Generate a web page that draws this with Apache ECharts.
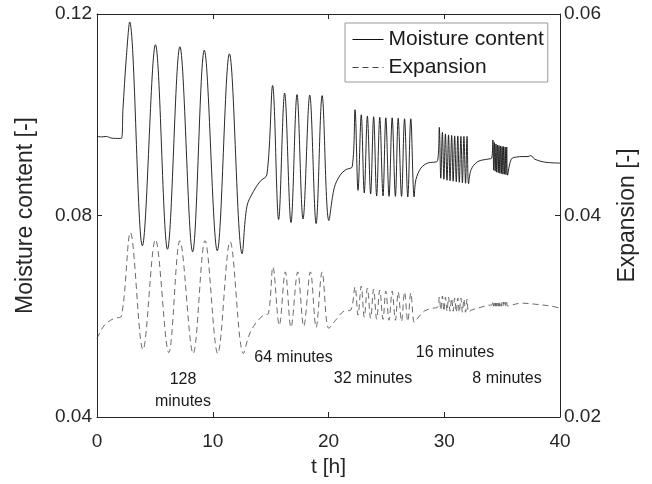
<!DOCTYPE html>
<html>
<head>
<meta charset="utf-8">
<script src="https://cdn.jsdelivr.net/npm/echarts@6/dist/echarts.min.js"></script>
<style>
html,body{margin:0;padding:0;background:#fff;}
#chart{width:652px;height:484px;}
</style>
</head>
<body>
<div id="chart"></div>
<script>
// ---- data ----
const seriesNames = ['Moisture content', 'Expansion'];
const xTickValues = [0, 10, 20, 30, 40];
const moistureTickValues = [0.04, 0.08, 0.12];
const expansionTickValues = [0.02, 0.04, 0.06];
const annotationTexts = ['128', 'minutes', '64 minutes', '32 minutes', '16 minutes', '8 minutes'];

const moistureT = [
  0.00, 0.40, 0.80, 1.20, 1.60, 2.10, 2.24, 2.53, 2.82,
  3.92, 5.05, 6.09, 7.16, 8.26, 9.27, 10.39, 11.44, 12.54,
  12.95, 13.52, 14.10, 14.68,
  15.17, 15.69, 16.21, 16.76, 17.28, 17.80, 18.38, 18.93, 19.45, 20.03,
  20.50, 21.00, 21.50, 22.05,
  22.29, 22.55, 22.83, 23.09, 23.36, 23.64, 23.90, 24.16, 24.43, 24.71,
  24.95, 25.23, 25.50, 25.78, 26.02, 26.31, 26.57, 26.85, 27.11, 27.40,
  27.55, 27.98, 28.56, 29.43,
  29.57, 29.70, 29.84, 29.97, 30.10, 30.24, 30.37, 30.50, 30.64, 30.77,
  30.90, 31.04, 31.17, 31.30, 31.44, 31.57, 31.70, 31.84, 31.97, 32.10,
  32.32, 32.90, 33.77, 34.10,
  34.20, 34.27, 34.33, 34.40, 34.47, 34.53, 34.60, 34.67, 34.73, 34.80,
  34.87, 34.93, 35.00, 35.07, 35.13, 35.20, 35.27, 35.33, 35.40, 35.47,
  35.79, 36.23, 36.80, 37.24, 37.47, 37.81, 38.68, 40.00
];
const moistureV = [
  0.0957, 0.0956, 0.0957, 0.0954, 0.0953, 0.0953, 0.1010, 0.1113, 0.1184,
  0.0740, 0.1139, 0.0733, 0.1135, 0.0728, 0.1128, 0.0730, 0.1121, 0.0724,
  0.0818, 0.0848, 0.0868, 0.0881,
  0.1058, 0.0792, 0.1043, 0.0786, 0.1040, 0.0793, 0.1039, 0.0784, 0.1038, 0.0790,
  0.0855, 0.0880, 0.0891, 0.0897,
  0.1010, 0.0850, 0.1000, 0.0845, 0.0997, 0.0843, 0.0996, 0.0839, 0.0995, 0.0839,
  0.0994, 0.0838, 0.0994, 0.0838, 0.0993, 0.0838, 0.0992, 0.0837, 0.0992, 0.0837,
  0.0871, 0.0894, 0.0904, 0.0909,
  0.0975, 0.0874, 0.0965, 0.0872, 0.0962, 0.0870, 0.0960, 0.0869, 0.0959, 0.0868,
  0.0958, 0.0867, 0.0958, 0.0866, 0.0957, 0.0865, 0.0957, 0.0864, 0.0957, 0.0863,
  0.0891, 0.0907, 0.0912, 0.0914,
  0.0950, 0.0890, 0.0945, 0.0888, 0.0942, 0.0886, 0.0940, 0.0885, 0.0939, 0.0884,
  0.0938, 0.0883, 0.0937, 0.0882, 0.0937, 0.0882, 0.0936, 0.0881, 0.0936, 0.0880,
  0.0912, 0.0916, 0.0917, 0.0917, 0.0919, 0.0912, 0.0906, 0.0904
];

const expansionT = [
  0.00, 0.40, 0.80, 1.50, 2.10, 2.88,
  3.97, 5.05, 6.20, 7.16, 8.31, 9.33, 10.43, 11.50, 12.65,
  13.10, 13.52, 14.00, 14.39, 14.82,
  15.20, 15.75, 16.27, 16.76, 17.34, 17.86, 18.44, 18.93, 19.45, 20.03,
  20.61, 21.33, 21.91,
  22.29, 22.55, 22.83, 23.09, 23.36, 23.64, 23.90, 24.16, 24.43, 24.71,
  24.95, 25.23, 25.50, 25.78, 26.02, 26.31, 26.57, 26.85, 27.11, 27.40,
  27.55, 28.27, 29.00, 29.43,
  29.57, 29.70, 29.84, 29.97, 30.10, 30.24, 30.37, 30.50, 30.64, 30.77,
  30.90, 31.04, 31.17, 31.30, 31.44, 31.57, 31.70, 31.84, 31.97, 32.10,
  32.32, 33.19, 33.91, 34.10,
  34.20, 34.27, 34.33, 34.40, 34.47, 34.53, 34.60, 34.67, 34.73, 34.80,
  34.87, 34.93, 35.00, 35.07, 35.13, 35.20, 35.27, 35.33, 35.40, 35.47,
  35.79, 36.66, 37.81, 39.26, 40.00
];
const expansionV = [
  0.0278, 0.0287, 0.0293, 0.0298, 0.0300, 0.0383,
  0.0267, 0.0376, 0.0264, 0.0375, 0.0263, 0.0375, 0.0263, 0.0374, 0.0263,
  0.0280, 0.0290, 0.0297, 0.0301, 0.0303,
  0.0349, 0.0291, 0.0344, 0.0289, 0.0344, 0.0290, 0.0344, 0.0289, 0.0344, 0.0288,
  0.0296, 0.0305, 0.0306,
  0.0329, 0.0301, 0.0330, 0.0299, 0.0328, 0.0298, 0.0327, 0.0297, 0.0326, 0.0297,
  0.0325, 0.0296, 0.0325, 0.0296, 0.0324, 0.0295, 0.0324, 0.0295, 0.0323, 0.0294,
  0.0296, 0.0305, 0.0308, 0.0309,
  0.0319, 0.0306, 0.0320, 0.0305, 0.0319, 0.0305, 0.0319, 0.0305, 0.0318, 0.0305,
  0.0318, 0.0304, 0.0318, 0.0304, 0.0318, 0.0304, 0.0317, 0.0304, 0.0317, 0.0304,
  0.0306, 0.0309, 0.0311, 0.0311,
  0.0315, 0.0310, 0.0315, 0.0310, 0.0315, 0.0310, 0.0315, 0.0310, 0.0315, 0.0310,
  0.0314, 0.0310, 0.0314, 0.0310, 0.0314, 0.0310, 0.0314, 0.0310, 0.0314, 0.0310,
  0.0311, 0.0313, 0.0312, 0.0310, 0.0308
];

// ---- chart ----
const FONT = '"Liberation Sans", Arial, Helvetica, sans-serif';
const AXIS_COLOR = '#262626';
const moistureData = moistureT.map((t, i) => [t, moistureV[i]]);
const expansionData = expansionT.map((t, i) => [t, expansionV[i]]);

const chart = echarts.init(document.getElementById('chart'), null, {renderer: 'canvas'});

function axisCommon() {
  return {
    type: 'value',
    splitLine: {show: false},
    axisLine: {show: true, onZero: false, lineStyle: {color: AXIS_COLOR, width: 1}},
    axisTick: {show: true, inside: true, length: 5, lineStyle: {color: AXIS_COLOR, width: 1}},
    axisLabel: {fontFamily: FONT, fontSize: 19, color: AXIS_COLOR},
    nameTextStyle: {fontFamily: FONT, fontSize: 22, color: AXIS_COLOR}
  };
}

const xMin = xTickValues[0], xMax = xTickValues[xTickValues.length - 1];
const xInt = xTickValues[1] - xTickValues[0];

const annPos = [
  [183, 380], [183, 401.5], [293.5, 358], [373, 379], [455, 352.5], [507, 379]
];

const option = {
  animation: false,
  backgroundColor: '#ffffff',
  grid: {left: 97, right: 92, top: 14, bottom: 67, containLabel: false},
  legend: {
    data: seriesNames,
    orient: 'vertical',
    left: 345,
    top: 23,
    padding: [6, 4, 4, 7],
    itemGap: 7,
    itemWidth: 31,
    itemHeight: 14,
    backgroundColor: '#ffffff',
    borderColor: '#999999',
    borderWidth: 1,
    borderRadius: 0,
    itemStyle: {opacity: 0},
    lineStyle: {width: 1},
    textStyle: {fontFamily: FONT, fontSize: 21, color: '#1a1a1a', lineHeight: 21}
  },
  xAxis: [
    Object.assign(axisCommon(), {
      position: 'bottom', min: xMin, max: xMax, interval: xInt,
      name: 't [h]', nameLocation: 'middle', nameGap: 40,
      nameTextStyle: {fontFamily: FONT, fontSize: 21, color: AXIS_COLOR},
      axisLabel: {fontFamily: FONT, fontSize: 19, color: AXIS_COLOR, margin: 15}
    }),
    Object.assign(axisCommon(), {
      position: 'top', min: xMin, max: xMax, interval: xInt,
      axisLabel: {show: false}
    })
  ],
  yAxis: [
    Object.assign(axisCommon(), {
      position: 'left',
      min: moistureTickValues[0], max: moistureTickValues[moistureTickValues.length - 1],
      interval: moistureTickValues[1] - moistureTickValues[0],
      name: 'Moisture content [-]', nameLocation: 'middle', nameGap: 60,
      nameTextStyle: {fontFamily: FONT, fontSize: 23, color: AXIS_COLOR},
      axisLabel: {fontFamily: FONT, fontSize: 19, color: AXIS_COLOR, margin: 5,
        formatter: v => v.toFixed(2)}
    }),
    Object.assign(axisCommon(), {
      position: 'right',
      min: expansionTickValues[0], max: expansionTickValues[expansionTickValues.length - 1],
      interval: expansionTickValues[1] - expansionTickValues[0],
      name: 'Expansion [-]', nameLocation: 'middle', nameGap: 56,
      nameTextStyle: {fontFamily: FONT, fontSize: 23, color: AXIS_COLOR},
      axisLabel: {fontFamily: FONT, fontSize: 19, color: AXIS_COLOR, margin: 4,
        formatter: v => v.toFixed(2)}
    })
  ],
  series: [
    {
      name: seriesNames[0], type: 'line', xAxisIndex: 0, yAxisIndex: 0,
      data: moistureData, showSymbol: false, symbol: 'none', smooth: 0.35,
      lineStyle: {color: '#111111', width: 0.9},
      itemStyle: {color: '#111111'},
      z: 3
    },
    {
      name: seriesNames[1], type: 'line', xAxisIndex: 0, yAxisIndex: 1,
      data: expansionData, showSymbol: false, symbol: 'none', smooth: 0.35,
      lineStyle: {color: '#444444', width: 0.8, type: [6, 4]},
      itemStyle: {color: '#444444'},
      z: 2
    }
  ],
  graphic: annotationTexts.map((txt, i) => ({
    type: 'text',
    x: annPos[i][0], y: annPos[i][1],
    z: 10,
    style: {
      text: txt, fill: '#1a1a1a',
      font: '16px ' + FONT,
      align: 'center', verticalAlign: 'middle',
      textAlign: 'center', textVerticalAlign: 'middle'
    }
  }))
};

chart.setOption(option);
</script>
</body>
</html>
